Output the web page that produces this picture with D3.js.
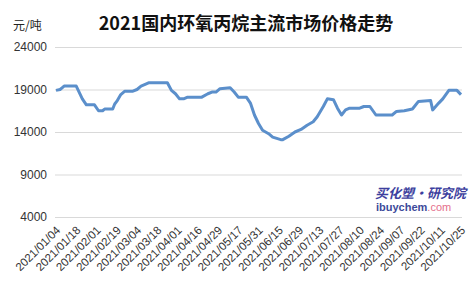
<!DOCTYPE html>
<html><head><meta charset="utf-8">
<script src="https://cdn.jsdelivr.net/npm/d3@7"></script>
<style>body{margin:0;background:#fff}svg{display:block}</style>
</head><body>
<script>
const tickLabels = ["2021/01/04","2021/01/18","2021/02/01","2021/02/19","2021/03/04","2021/03/18","2021/04/01","2021/04/16","2021/04/29","2021/05/17","2021/05/31","2021/06/15","2021/06/29","2021/07/13","2021/07/27","2021/08/10","2021/08/24","2021/09/07","2021/09/22","2021/10/11","2021/10/25"];
// trading-day index of each reading (labels every 10 trading days)
const days =   [0,2,3,4,10,12,13,15,19,21,23,24,28,29,30,32,34,38,40,42,46,55,57,59,61,63,65,72,75,77,79,81,86,88,90,94,96,98,100,102,105,107,111,112,115,118,121,124,127,129,132,134,137,139,141,143,145,150,152,155,158,166,168,172,176,177,179,185,186,189,191,194,198,200];
const prices = [18900,19000,19200,19400,19400,18400,17900,17200,17200,16500,16500,16700,16700,17300,17600,18400,18800,18800,19000,19400,19800,19800,18900,18500,17900,17900,18100,18100,18500,18700,18700,19100,19200,18700,18100,18100,17400,16000,15000,14200,13800,13400,13100,13100,13500,14000,14300,14800,15200,15800,17000,17900,17800,16800,16000,16600,16800,16800,17000,17000,16000,16000,16400,16500,16700,17000,17600,17700,16600,17400,17900,18900,18900,18400];
const yTicks = [4000,9000,14000,19000,24000];

const W=471,H=285;
const svg=d3.select("body").append("svg").attr("width",W).attr("height",H);
const x=d3.scaleLinear().domain([0,200]).range([56,461]);
const y=d3.scaleLinear().domain([4000,24000]).range([217,47]);

svg.append("text").attr("x",246).attr("y",30).attr("text-anchor","middle")
  .attr("font-family","'Noto Sans CJK SC'").attr("font-weight","bold").attr("font-size",18)
  .attr("fill","#111").text("2021国内环氧丙烷主流市场价格走势");
svg.append("text").attr("x",13).attr("y",30)
  .attr("font-family","'Noto Sans CJK SC'").attr("font-size",12).attr("fill","#222").text("元/吨");

const ya=svg.append("g").attr("transform","translate(55,0)")
  .call(d3.axisLeft(y).tickValues(yTicks).tickSize(-407).tickFormat(d3.format("d")).tickPadding(8));
ya.select(".domain").remove();
ya.selectAll(".tick line").attr("stroke","#d9d9d9");
ya.selectAll(".tick text").attr("font-family","'Liberation Sans',Arial").attr("font-size",12).attr("fill","#333");

// logo
svg.append("text").attr("x",375).attr("y",198).attr("font-family","'Noto Sans CJK SC'")
  .attr("font-weight","bold").attr("font-style","italic").attr("font-size",13).attr("fill","#3d3f9e").text("买化塑·研究院");
const lg=svg.append("text").attr("x",376).attr("y",211).attr("font-family","'Liberation Sans',Arial").attr("font-size",11);
lg.append("tspan").attr("fill","#3d4a9a").attr("font-weight","bold").text("ibuychem");
lg.append("tspan").attr("fill","#e56f8c").text(".com");

const xa=svg.append("g");
tickLabels.forEach((t,i)=>{
  xa.append("text").attr("transform",`translate(${x(i*10)+5},${231}) rotate(-45)`)
    .attr("text-anchor","end").attr("font-family","'Liberation Sans',Arial").attr("font-size",11.5)
    .attr("fill","#333").text(t);
});

const pts=days.map((d,i)=>[d,prices[i]]);
svg.append("path").datum(pts).attr("fill","none").attr("stroke","#5b8fcb").attr("stroke-width",3)
  .attr("stroke-linejoin","round").attr("d",d3.line().x(d=>x(d[0])).y(d=>y(d[1])));
</script>
</body></html>
